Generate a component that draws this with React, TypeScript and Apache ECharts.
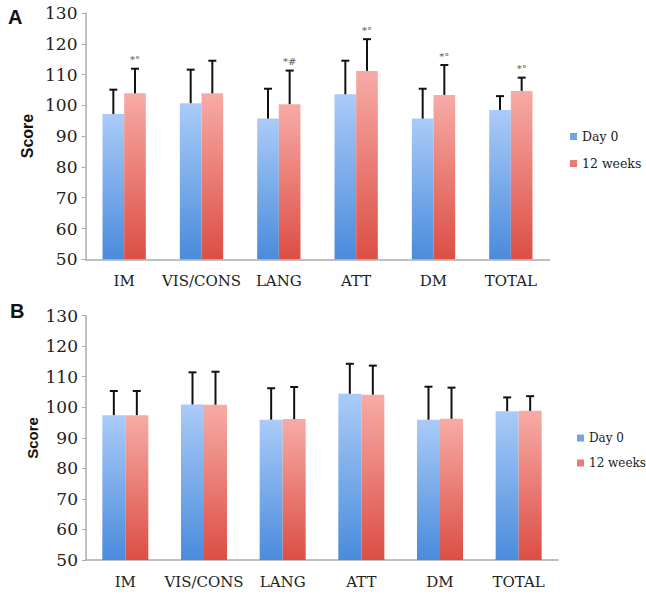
import React, { useEffect, useRef } from "react";
import * as echarts from "echarts";

const categories = ["IM", "VIS/CONS", "LANG", "ATT", "DM", "TOTAL"];
const yTicks = [50, 60, 70, 80, 90, 100, 110, 120, 130];

// Panel A
const day0A = [97.2, 100.7, 95.7, 103.6, 95.7, 98.5];
const day0UpperA = [105.1, 111.6, 105.4, 114.5, 105.4, 103.0];
const wk12A = [103.9, 103.9, 100.4, 111.2, 103.4, 104.7];
const wk12UpperA = [111.9, 114.5, 111.3, 121.5, 113.1, 109.0];
const annotA = ["*°", "", "*#", "*°", "*°", "*°"];

// Panel B
const day0B = [97.4, 100.9, 95.9, 104.4, 95.9, 98.7];
const day0UpperB = [105.3, 111.4, 106.2, 114.2, 106.7, 103.2];
const wk12B = [97.4, 100.8, 96.1, 104.1, 96.2, 98.8];
const wk12UpperB = [105.3, 111.6, 106.6, 113.6, 106.4, 103.6];
const annotB = ["", "", "", "", "", ""];

const SERIF = "'DejaVu Serif', serif";
const SANS = "'Liberation Sans', Arial, sans-serif";

const blueGrad = () =>
  new echarts.graphic.LinearGradient(0, 0, 0, 1, [
    { offset: 0, color: "#aacbf8" },
    { offset: 1, color: "#4a8bdc" },
  ]);
const redGrad = () =>
  new echarts.graphic.LinearGradient(0, 0, 0, 1, [
    { offset: 0, color: "#f7aba6" },
    { offset: 1, color: "#dc4e44" },
  ]);

function errSeries(
  idx: number,
  means: number[],
  uppers: number[],
  sign: number,
  gap: number,
  annot: string[]
) {
  return {
    type: "custom",
    name: "err" + idx + sign,
    xAxisIndex: idx,
    yAxisIndex: idx,
    z: 5,
    silent: true,
    data: means.map((m, i) => [i, m, uppers[i]]),
    renderItem: (params: any, api: any) => {
      const cat = api.value(0);
      const mean = api.value(1);
      const up = api.value(2);
      const band = api.size([1, 0])[0];
      const bw = (band * (1 - gap)) / 2;
      const p0 = api.coord([cat, mean]);
      const p1 = api.coord([cat, up]);
      const x = p0[0] + (sign * bw) / 2;
      const children: any[] = [
        {
          type: "line",
          shape: { x1: x, y1: p0[1], x2: x, y2: p1[1] },
          style: { stroke: "#111", lineWidth: 2 },
        },
        {
          type: "line",
          shape: { x1: x - 4, y1: p1[1], x2: x + 4, y2: p1[1] },
          style: { stroke: "#111", lineWidth: 2 },
        },
      ];
      const t = annot[params.dataIndex];
      if (t) {
        children.push({
          type: "text",
          x: x,
          y: p1[1] - 4,
          style: {
            text: t,
            align: "center",
            verticalAlign: "bottom",
            textAlign: "center",
            textVerticalAlign: "bottom",
            fontSize: 10,
            fontFamily: SERIF,
            fill: "#555",
          },
        });
      }
      return { type: "group", children };
    },
  };
}

export default function App() {
  const ref = useRef<HTMLDivElement>(null);

  useEffect(() => {
    document.body.style.margin = "0";
    if (!ref.current) return;
    const chart = echarts.init(ref.current, undefined, { renderer: "svg" });

    const gapA = 0.44;
    const gapB = 0.415;

    const grids = [
      { left: 85.5, top: 13, width: 464, height: 246.3 },
      { left: 86, top: 315.5, width: 472, height: 244.5 },
    ];

    const xAxis = [0, 1].map((i) => ({
      type: "category",
      gridIndex: i,
      data: categories,
      axisLine: { lineStyle: { color: "#ababab", width: 1.5 } },
      axisTick: { show: false },
      axisLabel: {
        fontFamily: SERIF,
        fontSize: 15,
        color: "#222",
        margin: 14,
        interval: 0,
      },
    }));

    const yAxis = [0, 1].map((i) => ({
      type: "value",
      gridIndex: i,
      min: yTicks[0],
      max: yTicks[yTicks.length - 1],
      interval: 10,
      axisLine: { show: true, lineStyle: { color: "#ababab", width: 1.5 } },
      axisTick: { show: true, length: 4, lineStyle: { color: "#ababab" } },
      splitLine: { show: false },
      axisLabel: {
        fontFamily: SERIF,
        fontSize: 17,
        color: "#222",
        margin: 8,
      },
    }));

    const legendData = [
      { name: "Day 0", itemStyle: { color: "#6fa4ea" } },
      { name: "12 weeks", itemStyle: { color: "#ea7b74" } },
    ];

    chart.setOption({
      animation: false,
      grid: grids,
      xAxis,
      yAxis,
      legend: [
        {
          orient: "vertical",
          left: 565,
          top: 125,
          itemGap: 14,
          itemWidth: 7,
          itemHeight: 7,
          icon: "rect",
          textStyle: { fontFamily: SERIF, fontSize: 12.5, color: "#222" },
          data: legendData,
        },
        {
          orient: "vertical",
          left: 572,
          top: 427,
          itemGap: 13,
          itemWidth: 7,
          itemHeight: 7,
          icon: "rect",
          textStyle: { fontFamily: SERIF, fontSize: 12, color: "#222" },
          data: legendData,
        },
      ],
      graphic: [
        {
          type: "text",
          left: 8,
          top: 7,
          style: { text: "A", fontFamily: SANS, fontWeight: "bold", fontSize: 20, fill: "#111" },
        },
        {
          type: "text",
          left: 10,
          top: 301,
          style: { text: "B", fontFamily: SANS, fontWeight: "bold", fontSize: 20, fill: "#111" },
        },
        {
          type: "text",
          x: 27,
          y: 136,
          rotation: Math.PI / 2,
          style: {
            text: "Score",
            fontFamily: SANS,
            fontWeight: "bold",
            fontSize: 16,
            fill: "#111",
            align: "center",
            verticalAlign: "middle",
          },
        },
        {
          type: "text",
          x: 32,
          y: 438,
          rotation: Math.PI / 2,
          style: {
            text: "Score",
            fontFamily: SANS,
            fontWeight: "bold",
            fontSize: 15,
            fill: "#111",
            align: "center",
            verticalAlign: "middle",
          },
        },
      ],
      series: [
        {
          type: "bar",
          name: "Day 0",
          xAxisIndex: 0,
          yAxisIndex: 0,
          data: day0A,
          barGap: "0%",
          barCategoryGap: gapA * 100 + "%",
          itemStyle: { color: blueGrad() },
        },
        {
          type: "bar",
          name: "12 weeks",
          xAxisIndex: 0,
          yAxisIndex: 0,
          data: wk12A,
          barGap: "0%",
          barCategoryGap: gapA * 100 + "%",
          itemStyle: { color: redGrad() },
        },
        {
          type: "bar",
          name: "Day 0",
          xAxisIndex: 1,
          yAxisIndex: 1,
          data: day0B,
          barGap: "0%",
          barCategoryGap: gapB * 100 + "%",
          itemStyle: { color: blueGrad() },
        },
        {
          type: "bar",
          name: "12 weeks",
          xAxisIndex: 1,
          yAxisIndex: 1,
          data: wk12B,
          barGap: "0%",
          barCategoryGap: gapB * 100 + "%",
          itemStyle: { color: redGrad() },
        },
        errSeries(0, day0A, day0UpperA, -1, gapA, ["", "", "", "", "", ""]),
        errSeries(0, wk12A, wk12UpperA, 1, gapA, annotA),
        errSeries(1, day0B, day0UpperB, -1, gapB, ["", "", "", "", "", ""]),
        errSeries(1, wk12B, wk12UpperB, 1, gapB, annotB),
      ],
    });

    return () => chart.dispose();
  }, []);

  return <div ref={ref} style={{ width: 646, height: 595 }} />;
}
